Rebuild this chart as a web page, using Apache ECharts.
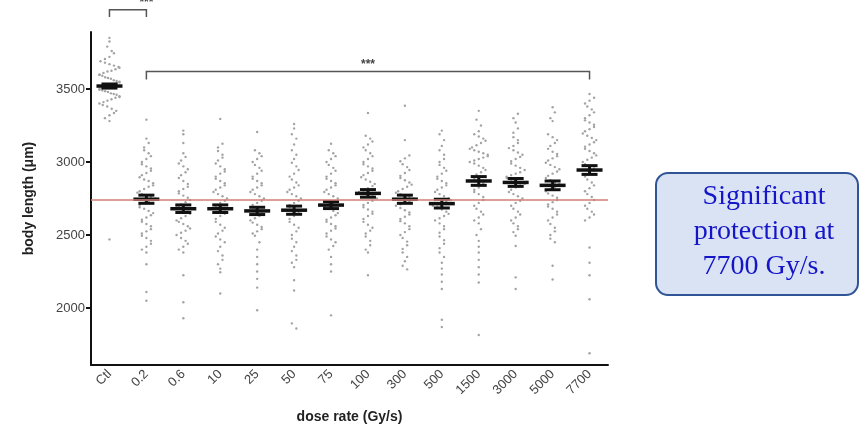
<!DOCTYPE html>
<html>
<head>
<meta charset="utf-8">
<title>body length vs dose rate</title>
<script src="https://cdn.jsdelivr.net/npm/echarts@6/dist/echarts.min.js"></script>
<style>
  html, body { margin: 0; padding: 0; background: #fff; }
  #chart { width: 859px; height: 429px; }
</style>
</head>
<body>
<div id="chart"></div>
<script>
// dose rates (Gy/s)
const categories = ['Ctl', '0.2', '0.6', '10', '25', '50', '75', '100', '300', '500', '1500', '3000', '5000', '7700'];

// individual body lengths (µm)
const ctl = [3850, 3825, 3790, 3760, 3745, 3720, 3705, 3690, 3680, 3670, 3660, 3650, 3645, 3635, 3625, 3620, 3610, 3600, 3595, 3590, 3580, 3575, 3570, 3560, 3555, 3550, 3545, 3540, 3535, 3530, 3520, 3515, 3510, 3505, 3500, 3495, 3490, 3485, 3480, 3470, 3465, 3460, 3450, 3445, 3440, 3430, 3420, 3410, 3400, 3390, 3380, 3365, 3350, 3335, 3320, 3300, 3280, 2470];
const r02 = [3290, 3160, 3130, 3100, 3080, 3060, 3040, 3020, 3000, 2985, 2970, 2955, 2940, 2925, 2910, 2895, 2880, 2870, 2855, 2840, 2830, 2815, 2800, 2790, 2780, 2770, 2760, 2750, 2740, 2730, 2720, 2705, 2690, 2680, 2665, 2650, 2635, 2620, 2605, 2590, 2575, 2560, 2540, 2525, 2510, 2495, 2480, 2460, 2440, 2420, 2400, 2380, 2300, 2110, 2050];
const r06 = [3215, 3190, 3130, 3060, 3035, 3010, 2990, 2970, 2950, 2930, 2910, 2890, 2870, 2850, 2830, 2815, 2800, 2785, 2770, 2755, 2740, 2725, 2710, 2700, 2690, 2675, 2660, 2645, 2630, 2615, 2600, 2590, 2575, 2560, 2545, 2530, 2515, 2500, 2480, 2460, 2440, 2420, 2400, 2380, 2225, 2040, 1930];
const r10 = [3295, 3125, 3100, 3075, 3050, 3030, 3010, 2990, 2970, 2950, 2935, 2920, 2900, 2885, 2870, 2855, 2840, 2825, 2810, 2795, 2780, 2765, 2750, 2735, 2720, 2705, 2690, 2675, 2660, 2645, 2630, 2610, 2590, 2570, 2550, 2530, 2510, 2490, 2470, 2450, 2420, 2390, 2360, 2330, 2300, 2270, 2245, 2100];
const r25 = [3205, 3080, 3060, 3040, 3020, 3000, 2980, 2960, 2940, 2920, 2900, 2885, 2870, 2855, 2840, 2825, 2810, 2795, 2780, 2765, 2750, 2735, 2720, 2705, 2690, 2675, 2660, 2645, 2630, 2615, 2600, 2585, 2570, 2555, 2540, 2525, 2510, 2495, 2450, 2400, 2350, 2300, 2250, 2200, 2140, 1985];
const r50 = [3260, 3230, 3190, 3160, 3120, 3080, 3050, 3020, 2995, 2970, 2945, 2920, 2900, 2880, 2860, 2840, 2825, 2810, 2795, 2780, 2765, 2750, 2735, 2720, 2705, 2690, 2675, 2660, 2645, 2630, 2610, 2590, 2570, 2550, 2525, 2500, 2475, 2450, 2420, 2390, 2360, 2330, 2310, 2280, 2190, 2120, 1895, 1860];
const r75 = [3125, 3080, 3060, 3040, 3020, 3000, 2980, 2960, 2940, 2920, 2900, 2885, 2870, 2855, 2840, 2825, 2810, 2795, 2780, 2765, 2750, 2735, 2720, 2710, 2700, 2690, 2680, 2665, 2650, 2635, 2620, 2605, 2590, 2575, 2560, 2545, 2530, 2510, 2490, 2470, 2450, 2425, 2400, 2350, 2300, 2250, 1950];
const r100 = [3335, 3180, 3160, 3140, 3120, 3100, 3080, 3060, 3040, 3020, 3000, 2985, 2970, 2955, 2940, 2925, 2910, 2895, 2880, 2865, 2850, 2835, 2820, 2805, 2795, 2785, 2775, 2765, 2750, 2735, 2720, 2705, 2690, 2675, 2660, 2645, 2630, 2610, 2590, 2570, 2550, 2530, 2510, 2490, 2460, 2430, 2400, 2380, 2225];
const r300 = [3385, 3150, 3045, 3025, 3005, 2985, 2965, 2945, 2925, 2905, 2890, 2875, 2860, 2845, 2830, 2815, 2800, 2790, 2780, 2770, 2760, 2750, 2740, 2730, 2720, 2710, 2700, 2685, 2670, 2655, 2640, 2625, 2610, 2595, 2580, 2560, 2540, 2520, 2500, 2480, 2455, 2430, 2405, 2380, 2350, 2320, 2290, 2265];
const r500 = [3215, 3190, 3150, 3110, 3080, 3050, 3020, 3000, 2980, 2960, 2940, 2920, 2900, 2885, 2870, 2855, 2840, 2825, 2810, 2795, 2780, 2765, 2750, 2740, 2730, 2720, 2710, 2700, 2690, 2675, 2660, 2645, 2630, 2615, 2600, 2580, 2560, 2540, 2515, 2490, 2465, 2440, 2410, 2380, 2350, 2310, 2270, 2230, 2180, 2130, 1920, 1870];
const r1500 = [3350, 3290, 3250, 3210, 3190, 3175, 3160, 3145, 3130, 3115, 3100, 3090, 3080, 3070, 3060, 3050, 3040, 3030, 3020, 3010, 3000, 2990, 2975, 2960, 2945, 2930, 2915, 2900, 2885, 2870, 2855, 2840, 2825, 2810, 2795, 2780, 2760, 2740, 2720, 2700, 2680, 2660, 2640, 2620, 2600, 2580, 2540, 2500, 2460, 2420, 2380, 2330, 2280, 2230, 2175, 1815];
const r3000 = [3330, 3300, 3270, 3230, 3200, 3170, 3150, 3130, 3110, 3095, 3080, 3065, 3050, 3035, 3020, 3005, 2990, 2975, 2960, 2945, 2930, 2920, 2910, 2900, 2890, 2880, 2870, 2860, 2850, 2840, 2825, 2810, 2795, 2780, 2765, 2750, 2735, 2720, 2700, 2680, 2660, 2640, 2620, 2600, 2580, 2560, 2540, 2520, 2495, 2425, 2210, 2130];
const r5000 = [3375, 3340, 3300, 3280, 3190, 3170, 3150, 3130, 3110, 3090, 3070, 3055, 3040, 3025, 3010, 2995, 2980, 2965, 2950, 2935, 2920, 2905, 2890, 2875, 2860, 2850, 2840, 2830, 2815, 2800, 2785, 2770, 2755, 2740, 2725, 2710, 2695, 2680, 2660, 2640, 2620, 2600, 2575, 2550, 2525, 2500, 2475, 2450, 2290, 2195];
const r7700 = [3465, 3440, 3420, 3400, 3380, 3360, 3340, 3320, 3300, 3285, 3270, 3255, 3240, 3225, 3210, 3195, 3180, 3165, 3150, 3135, 3120, 3105, 3090, 3075, 3060, 3045, 3030, 3015, 3000, 2985, 2970, 2955, 2940, 2920, 2900, 2880, 2860, 2840, 2820, 2800, 2780, 2760, 2740, 2720, 2700, 2680, 2660, 2640, 2620, 2600, 2415, 2310, 2225, 2060, 1690];

// mean +/- SEM per group
const means = [3520, 2745, 2680, 2680, 2665, 2670, 2705, 2785, 2745, 2715, 2870, 2860, 2840, 2945];
const sems = [14, 28, 26, 26, 25, 28, 24, 26, 28, 30, 30, 27, 30, 30];

// dose-rate 0.2 reference level
const refLevel = 2740;
const yTickValues = [2000, 2500, 3000, 3500];

// significance brackets
const bracketFrom = ['Ctl', '0.2'];
const bracketTo = ['0.2', '7700'];
const bracketTop = [4043, 3620];
const bracketLeg = [3993, 3564];
const bracketStarAt = [0.5, 6.5];
const bracketText = ['***', '***'];

const groups = [ctl, r02, r06, r10, r25, r50, r75, r100, r300, r500, r1500, r3000, r5000, r7700];

// simple beeswarm: values in the same band get spread sideways
function swarm(vals, idx) {
  const bins = {};
  vals.forEach(v => {
    const k = Math.floor(v / 50);
    (bins[k] = bins[k] || []).push(v);
  });
  const out = [];
  Object.keys(bins).forEach(k => {
    const b = bins[k];
    const step = b.length > 1 ? Math.min(4.5, 20 / (b.length - 1)) : 0;
    b.forEach((v, i) => {
      // alternate sides so neighbouring values do not line up
      const slot = (i - (b.length - 1) / 2) * step;
      out.push([idx, v, (k % 2 ? slot : -slot)]);
    });
  });
  return out;
}

const dotData = [];
groups.forEach((g, i) => swarm(g, i).forEach(d => dotData.push(d)));

const barData = means.map((m, i) => [i, m, sems[i]]);
const bracketData = bracketFrom.map((f, i) => [
  categories.indexOf(f), categories.indexOf(bracketTo[i]), bracketLeg[i], bracketTop[i], bracketStarAt[i]
]);

const chart = echarts.init(document.getElementById('chart'));

chart.setOption({
  backgroundColor: '#fff',
  animation: false,
  grid: { left: 91, right: 251, top: 32, bottom: 61 },
  xAxis: {
    type: 'category',
    data: categories,
    name: 'dose rate (Gy/s)',
    nameLocation: 'middle',
    nameGap: 45,
    nameTextStyle: { fontFamily: 'Liberation Sans', fontWeight: 'bold', fontSize: 14, color: '#222' },
    axisLine: { lineStyle: { color: '#111', width: 2 } },
    axisTick: { alignWithLabel: true, length: 5, lineStyle: { color: '#111', width: 2 } },
    axisLabel: { interval: 0, rotate: 45, margin: 7, fontFamily: 'Liberation Sans', fontSize: 13, color: '#444' },
    splitLine: { show: false }
  },
  yAxis: {
    type: 'value',
    min: 1610,
    max: 3890,
    name: 'body length (μm)',
    nameLocation: 'middle',
    nameGap: 55,
    nameTextStyle: { fontFamily: 'Liberation Sans', fontWeight: 'bold', fontSize: 14, color: '#222' },
    axisLine: { show: true, lineStyle: { color: '#111', width: 2 } },
    axisTick: { show: true, customValues: yTickValues, length: 5, lineStyle: { color: '#111', width: 2 } },
    axisLabel: {
      customValues: yTickValues,
      formatter: v => String(v),
      margin: 6,
      fontFamily: 'Liberation Sans',
      fontSize: 13,
      color: '#444'
    },
    splitLine: { show: false }
  },
  series: [
    {
      type: 'custom',
      name: 'dots',
      z: 2,
      data: dotData,
      encode: { x: 0, y: 1 },
      renderItem: function (params, api) {
        const p = api.coord([api.value(0), api.value(1)]);
        return {
          type: 'circle',
          shape: { cx: p[0] + api.value(2), cy: p[1], r: 1.2 },
          style: { fill: '#a3a3a3' }
        };
      },
      markLine: {
        silent: true,
        symbol: 'none',
        label: { show: false },
        lineStyle: { color: '#d27c76', width: 1.5, type: 'solid' },
        data: [{ yAxis: refLevel }]
      }
    },
    {
      type: 'custom',
      name: 'mean',
      z: 4,
      data: barData,
      encode: { x: 0, y: 1 },
      renderItem: function (params, api) {
        const x = api.value(0), m = api.value(1), s = api.value(2);
        const p = api.coord([x, m]);
        const top = api.coord([x, m + s])[1];
        const bot = api.coord([x, m - s])[1];
        const st = { stroke: '#111', lineWidth: 3 };
        return {
          type: 'group',
          children: [
            { type: 'line', shape: { x1: p[0] - 13, y1: p[1], x2: p[0] + 13, y2: p[1] }, style: { stroke: '#111', lineWidth: 3.5 } },
            { type: 'line', shape: { x1: p[0], y1: top, x2: p[0], y2: bot }, style: st },
            { type: 'line', shape: { x1: p[0] - 8, y1: top, x2: p[0] + 8, y2: top }, style: st },
            { type: 'line', shape: { x1: p[0] - 8, y1: bot, x2: p[0] + 8, y2: bot }, style: st }
          ]
        };
      }
    },
    {
      type: 'custom',
      name: 'brackets',
      z: 5,
      clip: false,
      data: bracketData,
      encode: { x: [0, 1], y: [2, 3] },
      renderItem: function (params, api) {
        const a = api.coord([api.value(0), api.value(2)]);
        const b = api.coord([api.value(0), api.value(3)]);
        const c = api.coord([api.value(1), api.value(3)]);
        const d = api.coord([api.value(1), api.value(2)]);
        const star = api.coord([api.value(4), api.value(3)]);
        return {
          type: 'group',
          children: [
            { type: 'polyline', shape: { points: [a, b, c, d] }, style: { stroke: '#555', lineWidth: 1.5, fill: null } },
            {
              type: 'text',
              x: star[0],
              y: star[1] - 1,
              style: {
                text: bracketText[params.dataIndex],
                align: 'center',
                verticalAlign: 'bottom',
                fontFamily: 'Liberation Sans',
                fontWeight: 'bold',
                fontSize: 12,
                fill: '#444'
              }
            }
          ]
        };
      }
    }
  ],
  graphic: [
    {
      type: 'rect',
      left: 655,
      top: 172,
      shape: { width: 202, height: 122, r: 12 },
      style: { fill: '#dae3f3', stroke: '#2f5597', lineWidth: 2 }
    },
    {
      type: 'text',
      x: 764,
      y: 232,
      style: {
        text: 'Significant\nprotection at\n7700 Gy/s.',
        align: 'center',
        verticalAlign: 'middle',
        lineHeight: 35,
        fontFamily: 'Liberation Serif',
        fontSize: 28,
        fill: '#1414c8'
      }
    }
  ]
});
</script>
</body>
</html>
